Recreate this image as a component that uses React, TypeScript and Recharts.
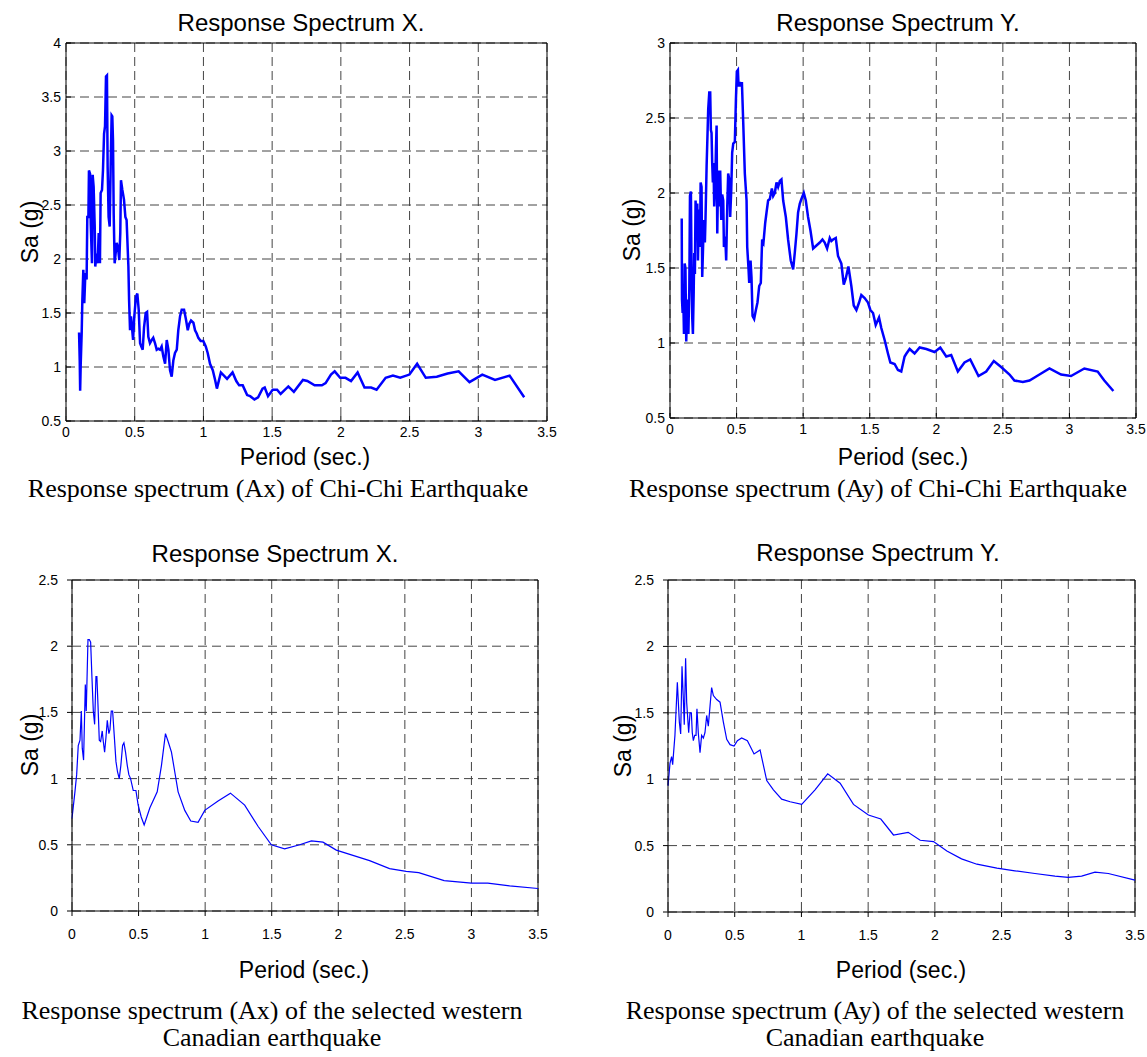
import React from "react";
import { LineChart, Line, XAxis, YAxis, CartesianGrid, ReferenceLine } from "recharts";

// period axis shared by every panel
const periodTicks = [0, 0.5, 1, 1.5, 2, 2.5, 3, 3.5];
const saTicksChiChiX = [0.5, 1, 1.5, 2, 2.5, 3, 3.5, 4];
const saTicksChiChiY = [0.5, 1, 1.5, 2, 2.5, 3];
const saTicksCanada = [0, 0.5, 1, 1.5, 2, 2.5];

// Chi-Chi, X direction
const chiChiXPeriod = [
  0.095, 0.1, 0.103, 0.107, 0.114, 0.119, 0.126, 0.133, 0.141, 0.15, 0.155, 0.163, 0.167, 0.175, 0.18, 0.189,
  0.194, 0.201, 0.209, 0.213, 0.223, 0.23, 0.238, 0.247, 0.252, 0.262, 0.269, 0.277, 0.284, 0.291, 0.298, 0.303,
  0.31, 0.318, 0.325, 0.332, 0.337, 0.342, 0.347, 0.354, 0.361, 0.369, 0.378, 0.388, 0.395, 0.4, 0.41, 0.422,
  0.432, 0.441, 0.454, 0.459, 0.466, 0.473, 0.48, 0.488, 0.497, 0.509, 0.519, 0.529, 0.539, 0.548, 0.558, 0.568,
  0.58, 0.59, 0.599, 0.611, 0.624, 0.635, 0.648, 0.66, 0.672, 0.684, 0.696, 0.708, 0.721, 0.733, 0.745, 0.757,
  0.769, 0.781, 0.793, 0.806, 0.817, 0.83, 0.842, 0.859, 0.873, 0.886, 0.897, 0.91, 0.927, 0.939, 0.951, 0.963,
  0.98, 0.999, 1.017, 1.031, 1.048, 1.068, 1.085, 1.098, 1.127, 1.172, 1.212, 1.239, 1.26, 1.286, 1.318, 1.34,
  1.371, 1.398, 1.43, 1.446, 1.47, 1.504, 1.536, 1.562, 1.618, 1.658, 1.724, 1.756, 1.809, 1.862, 1.889, 1.928,
  1.955, 1.995, 2.034, 2.074, 2.122, 2.172, 2.22, 2.26, 2.326, 2.379, 2.432, 2.499, 2.538, 2.555, 2.618, 2.698,
  2.777, 2.857, 2.936, 3.029, 3.122, 3.228, 3.334,
];
const chiChiXSa = [
  1.32, 1.05, 0.78, 1.02, 1.31, 1.62, 1.9, 1.59, 1.87, 1.81, 2.39, 2.39, 2.82, 2.79, 2.33, 1.96,
  2.78, 2.67, 2.3, 1.93, 2.05, 1.96, 2.24, 1.96, 2.61, 2.64, 2.82, 3.16, 3.23, 3.69, 3.7, 2.85,
  2.39, 2.3, 2.85, 3.33, 3.32, 3.1, 2.42, 1.96, 2.05, 2.15, 2.11, 1.99, 2.24, 2.73, 2.64, 2.55,
  2.39, 2.36, 1.93, 1.62, 1.34, 1.47, 1.37, 1.25, 1.47, 1.65, 1.68, 1.53, 1.22, 1.19, 1.16, 1.37,
  1.5, 1.51, 1.28, 1.22, 1.25, 1.27, 1.22, 1.16, 1.17, 1.16, 1.19, 1.1, 1.03, 1.25, 1.16, 0.97,
  0.91, 1.06, 1.13, 1.16, 1.34, 1.47, 1.53, 1.53, 1.44, 1.34, 1.4, 1.43, 1.41, 1.34, 1.31, 1.27,
  1.24, 1.24, 1.19, 1.13, 1.03, 0.97, 0.88, 0.8, 0.95, 0.89, 0.95, 0.87, 0.83, 0.83, 0.74, 0.73,
  0.7, 0.72, 0.8, 0.81, 0.73, 0.79, 0.79, 0.75, 0.82, 0.77, 0.88, 0.87, 0.83, 0.83, 0.85, 0.93,
  0.96, 0.9, 0.9, 0.87, 0.95, 0.81, 0.81, 0.79, 0.9, 0.92, 0.9, 0.93, 1.0, 1.03, 0.9, 0.91,
  0.94, 0.96, 0.86, 0.93, 0.88, 0.92, 0.72,
];

// Chi-Chi, Y direction
const chiChiYPeriod = [
  0.088, 0.09, 0.095, 0.098, 0.105, 0.11, 0.116, 0.122, 0.13, 0.138, 0.145, 0.15, 0.157, 0.162, 0.167, 0.172,
  0.178, 0.182, 0.187, 0.192, 0.2, 0.205, 0.21, 0.217, 0.225, 0.23, 0.237, 0.242, 0.25, 0.255, 0.262, 0.267,
  0.275, 0.282, 0.287, 0.295, 0.302, 0.307, 0.312, 0.317, 0.322, 0.327, 0.332, 0.34, 0.345, 0.35, 0.355, 0.362,
  0.37, 0.377, 0.385, 0.392, 0.4, 0.405, 0.415, 0.422, 0.43, 0.437, 0.445, 0.452, 0.46, 0.467, 0.475, 0.487,
  0.495, 0.502, 0.51, 0.515, 0.525, 0.532, 0.54, 0.55, 0.562, 0.575, 0.58, 0.59, 0.595, 0.605, 0.612, 0.62,
  0.632, 0.645, 0.657, 0.67, 0.682, 0.692, 0.702, 0.715, 0.725, 0.737, 0.75, 0.765, 0.775, 0.787, 0.8, 0.812,
  0.825, 0.837, 0.85, 0.87, 0.887, 0.907, 0.925, 0.937, 0.95, 0.962, 0.975, 0.987, 1.005, 1.02, 1.037, 1.055,
  1.075, 1.1, 1.125, 1.145, 1.162, 1.18, 1.2, 1.212, 1.225, 1.245, 1.262, 1.287, 1.305, 1.32, 1.34, 1.362,
  1.38, 1.4, 1.42, 1.437, 1.462, 1.487, 1.505, 1.525, 1.545, 1.57, 1.587, 1.612, 1.637, 1.655, 1.687, 1.712,
  1.737, 1.762, 1.776, 1.8, 1.837, 1.875, 1.925, 1.987, 2.03, 2.075, 2.112, 2.162, 2.212, 2.255, 2.317, 2.375,
  2.432, 2.487, 2.55, 2.587, 2.65, 2.7, 2.775, 2.85, 2.937, 3.012, 3.112, 3.212, 3.262, 3.33,
];
const chiChiYSa = [
  1.83, 1.29, 1.2, 1.38, 1.06, 1.53, 1.5, 1.01, 1.29, 1.06, 1.36, 1.98, 2.01, 1.46, 1.17, 1.06,
  1.34, 1.6, 1.46, 1.95, 1.78, 1.93, 1.55, 1.89, 1.64, 2.07, 2.04, 1.44, 1.69, 1.82, 1.67, 1.84,
  2.18, 2.4, 2.56, 2.67, 2.67, 2.42, 2.4, 2.2, 2.07, 2.2, 1.91, 2.07, 2.29, 2.45, 1.73, 2.15,
  1.91, 2.15, 1.82, 1.99, 1.95, 1.64, 1.71, 1.55, 1.91, 2.13, 2.09, 1.84, 2.02, 2.27, 2.33, 2.34,
  2.62, 2.81, 2.82, 2.71, 2.74, 2.71, 2.74, 2.47, 2.13, 1.95, 1.64, 1.49, 1.4, 1.55, 1.44, 1.18,
  1.16, 1.22, 1.27, 1.38, 1.4, 1.69, 1.67, 1.8, 1.87, 1.95, 1.96, 2.03, 1.98, 2.0, 2.07, 2.04,
  2.08, 2.09, 1.95, 1.84, 1.69, 1.55, 1.49, 1.6, 1.73, 1.87, 1.93, 1.96, 2.0, 1.95, 1.84, 1.75,
  1.63, 1.65, 1.67, 1.69, 1.67, 1.63, 1.7, 1.68, 1.69, 1.7, 1.58, 1.53, 1.39, 1.43, 1.51, 1.38,
  1.25, 1.22, 1.27, 1.32, 1.3, 1.27, 1.22, 1.2, 1.12, 1.17, 1.1, 1.02, 0.93, 0.87, 0.86, 0.82,
  0.81, 0.91, 0.93, 0.96, 0.93, 0.97, 0.96, 0.94, 0.97, 0.91, 0.92, 0.81, 0.87, 0.89, 0.78, 0.81,
  0.88, 0.84, 0.79, 0.75, 0.74, 0.75, 0.79, 0.83, 0.79, 0.78, 0.83, 0.81, 0.75, 0.68,
];

// western Canadian record, X direction
const canadaXPeriod = [
  0, 0.022, 0.035, 0.047, 0.06, 0.07, 0.077, 0.087, 0.1, 0.107, 0.12, 0.13, 0.14, 0.15, 0.16, 0.17,
  0.18, 0.187, 0.195, 0.205, 0.215, 0.227, 0.235, 0.245, 0.255, 0.265, 0.277, 0.285, 0.295, 0.305, 0.317, 0.33,
  0.342, 0.355, 0.367, 0.38, 0.39, 0.402, 0.415, 0.427, 0.44, 0.46, 0.48, 0.497, 0.52, 0.542, 0.585, 0.64,
  0.672, 0.702, 0.722, 0.747, 0.772, 0.797, 0.847, 0.892, 0.947, 0.997, 1.097, 1.19, 1.297, 1.397, 1.497, 1.597,
  1.71, 1.798, 1.885, 1.985, 2.11, 2.235, 2.385, 2.51, 2.604, 2.795, 3.0, 3.123, 3.287, 3.5,
];
const canadaXSa = [
  0.7, 0.9, 1.03, 1.25, 1.29, 1.51, 1.23, 1.14, 1.71, 1.51, 2.05, 2.05, 2.03, 1.76, 1.51, 1.41,
  1.77, 1.77, 1.56, 1.29, 1.28, 1.36, 1.28, 1.2, 1.31, 1.44, 1.34, 1.37, 1.51, 1.51, 1.33, 1.13,
  1.05, 1.0, 1.1, 1.25, 1.27, 1.2, 1.1, 1.03, 1.0, 0.91, 0.91, 0.8, 0.71, 0.65, 0.78, 0.9,
  1.1, 1.34, 1.28, 1.2, 1.05, 0.9, 0.76, 0.68, 0.67, 0.76, 0.83, 0.89, 0.8, 0.64, 0.5, 0.47,
  0.5, 0.53, 0.52, 0.46, 0.42, 0.38, 0.32, 0.3, 0.29, 0.23, 0.21, 0.21, 0.19, 0.17,
];

// western Canadian record, Y direction
const canadaYPeriod = [
  0, 0.015, 0.027, 0.035, 0.052, 0.07, 0.085, 0.095, 0.105, 0.115, 0.122, 0.132, 0.14, 0.155, 0.165, 0.175,
  0.182, 0.19, 0.2, 0.21, 0.217, 0.227, 0.24, 0.252, 0.265, 0.277, 0.29, 0.302, 0.315, 0.327, 0.34, 0.365,
  0.39, 0.415, 0.44, 0.465, 0.495, 0.52, 0.552, 0.595, 0.645, 0.69, 0.74, 0.79, 0.852, 0.915, 1.002, 1.102,
  1.197, 1.29, 1.39, 1.502, 1.595, 1.69, 1.8, 1.89, 1.99, 2.09, 2.2, 2.315, 2.465, 2.6, 2.75, 2.9,
  3.0, 3.1, 3.2, 3.3, 3.5,
];
const canadaYSa = [
  0.95, 1.12, 1.17, 1.11, 1.33, 1.73, 1.43, 1.34, 1.85, 1.6, 1.41, 1.91, 1.58, 1.35, 1.5, 1.5,
  1.35, 1.29, 1.33, 1.33, 1.53, 1.35, 1.2, 1.33, 1.31, 1.35, 1.48, 1.4, 1.55, 1.69, 1.63, 1.6,
  1.58, 1.43, 1.3, 1.26, 1.25, 1.29, 1.31, 1.29, 1.19, 1.22, 0.99, 0.92, 0.85, 0.83, 0.81, 0.92,
  1.04, 0.97, 0.81, 0.73, 0.7, 0.58, 0.6, 0.54, 0.53, 0.46, 0.4, 0.36, 0.33, 0.31, 0.29, 0.27,
  0.26, 0.27, 0.3, 0.29, 0.24,
];

const SANS = "'Liberation Sans', Arial, sans-serif";
const SERIF = "'Liberation Serif', 'Times New Roman', serif";

type PanelProps = {
  left: number;
  top: number;
  plotW: number;
  plotH: number;
  periods: number[];
  sa: number[];
  yTicks: number[];
  lineWidth: number;
  inward: boolean;
};

function Panel({ left, top, plotW, plotH, periods, sa, yTicks, lineWidth, inward }: PanelProps) {
  const data = periods.map((t, i) => ({ t, sa: sa[i] }));
  const padL = 70;
  const padT = 10;
  const padR = 10;
  const padB = 34;
  const yMin = yTicks[0];
  const yMax = yTicks[yTicks.length - 1];
  const tickStyle = { fontSize: 14, fontFamily: SANS, fill: "#000" };
  // matlab style: first row has ticks pointing into the box
  const tickSize = inward ? -5 : 5;
  return (
    <div style={{ position: "absolute", left: left - padL, top: top - padT }}>
      <LineChart
        width={plotW + padL + padR}
        height={plotH + padT + padB}
        data={data}
        margin={{ top: padT, right: padR, left: 0, bottom: 0 }}
      >
        <CartesianGrid stroke="#444" strokeDasharray="9 5" />
        <XAxis
          dataKey="t"
          type="number"
          domain={[0, 3.5]}
          ticks={periodTicks}
          interval={0}
          height={padB}
          tick={tickStyle}
          tickSize={tickSize}
          tickMargin={inward ? 11 : 13}
          axisLine={{ stroke: "#000" }}
          tickLine={{ stroke: "#000" }}
        />
        <YAxis
          type="number"
          domain={[yMin, yMax]}
          ticks={yTicks}
          interval={0}
          width={padL}
          tick={tickStyle}
          tickSize={tickSize}
          tickMargin={inward ? 10 : 9}
          axisLine={{ stroke: "#000" }}
          tickLine={{ stroke: "#000" }}
        />
        <ReferenceLine y={yMax} stroke="#000" />
        <ReferenceLine x={3.5} stroke="#000" />
        <Line
          type="linear"
          dataKey="sa"
          stroke="#0000ff"
          strokeWidth={lineWidth}
          dot={false}
          isAnimationActive={false}
        />
      </LineChart>
    </div>
  );
}

export default function App() {
  const titleStyle = { fontFamily: SANS, fontSize: 24, fill: "#000" };
  const axisStyle = { fontFamily: SANS, fontSize: 23, fill: "#000" };
  const capStyle = { fontFamily: SERIF, fontSize: 26, fill: "#000" };
  return (
    <div
      style={{
        position: "absolute",
        left: 0,
        top: 0,
        width: 1147,
        height: 1057,
        background: "#fff",
        overflow: "hidden",
      }}
    >
      <Panel left={66} top={43} plotW={481} plotH={378} periods={chiChiXPeriod} sa={chiChiXSa}
        yTicks={saTicksChiChiX} lineWidth={2.5} inward />
      <Panel left={670} top={43} plotW={466} plotH={375} periods={chiChiYPeriod} sa={chiChiYSa}
        yTicks={saTicksChiChiY} lineWidth={2.5} inward />
      <Panel left={72} top={580} plotW={466} plotH={331} periods={canadaXPeriod} sa={canadaXSa}
        yTicks={saTicksCanada} lineWidth={1.2} inward={false} />
      <Panel left={668} top={580} plotW={467} plotH={332} periods={canadaYPeriod} sa={canadaYSa}
        yTicks={saTicksCanada} lineWidth={1.2} inward={false} />

      <svg width={1147} height={1057} style={{ position: "absolute", left: 0, top: 0, pointerEvents: "none" }}>
        <text x={301} y={31} textAnchor="middle" style={titleStyle}>Response Spectrum X.</text>
        <text x={898} y={31} textAnchor="middle" style={titleStyle}>Response Spectrum Y.</text>
        <text x={275} y={562} textAnchor="middle" style={titleStyle}>Response Spectrum X.</text>
        <text x={878} y={561} textAnchor="middle" style={titleStyle}>Response Spectrum Y.</text>

        <text x={305} y={465} textAnchor="middle" style={axisStyle}>Period (sec.)</text>
        <text x={903} y={465} textAnchor="middle" style={axisStyle}>Period (sec.)</text>
        <text x={304} y={978} textAnchor="middle" style={axisStyle}>Period (sec.)</text>
        <text x={901} y={978} textAnchor="middle" style={axisStyle}>Period (sec.)</text>

        <text x={38} y={232} textAnchor="middle" transform="rotate(-90 38 232)" style={axisStyle}>Sa (g)</text>
        <text x={640} y={230} textAnchor="middle" transform="rotate(-90 640 230)" style={axisStyle}>Sa (g)</text>
        <text x={38} y={745} textAnchor="middle" transform="rotate(-90 38 745)" style={axisStyle}>Sa (g)</text>
        <text x={631} y={746} textAnchor="middle" transform="rotate(-90 631 746)" style={axisStyle}>Sa (g)</text>

        <text x={278} y={497} textAnchor="middle" style={capStyle}>Response spectrum (Ax) of Chi-Chi Earthquake</text>
        <text x={878} y={497} textAnchor="middle" style={capStyle}>Response spectrum (Ay) of Chi-Chi Earthquake</text>
        <text x={272} y={1019} textAnchor="middle" style={capStyle}>Response spectrum (Ax) of the selected western</text>
        <text x={272} y={1046} textAnchor="middle" style={capStyle}>Canadian earthquake</text>
        <text x={875} y={1019} textAnchor="middle" style={capStyle}>Response spectrum (Ay) of the selected western</text>
        <text x={875} y={1046} textAnchor="middle" style={capStyle}>Canadian earthquake</text>
      </svg>
    </div>
  );
}
